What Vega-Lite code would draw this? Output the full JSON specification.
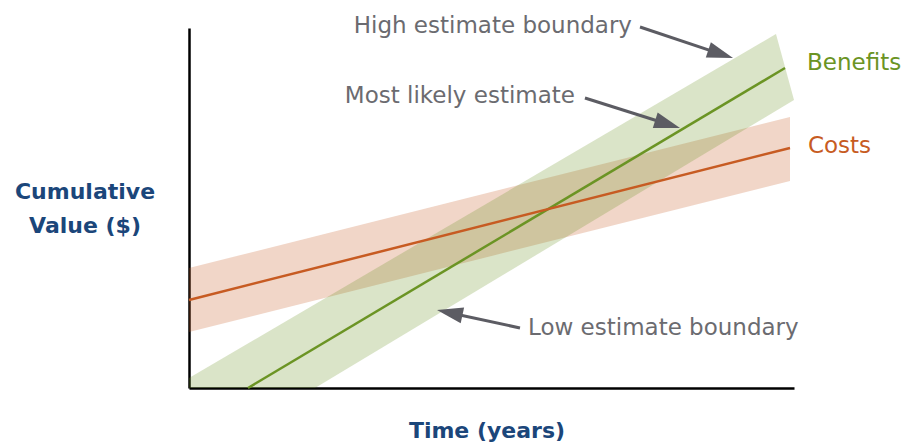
{
  "$schema": "https://vega.github.io/schema/vega-lite/v6.json",
  "width": 605,
  "height": 360,
  "autosize": {"type": "none"},
  "padding": {"left": 189, "top": 28, "right": 110, "bottom": 58},
  "background": "white",
  "config": {"view": {"stroke": null}},
  "datasets": {
    "bands": [
      {"series": "Costs", "i": 1, "x": 0, "y": 15.56},
      {"series": "Costs", "i": 2, "x": 0, "y": 33.33},
      {"series": "Costs", "i": 3, "x": 9.934, "y": 75.28},
      {"series": "Costs", "i": 4, "x": 9.934, "y": 57.5},
      {"series": "Benefits", "i": 1, "x": 0, "y": 0},
      {"series": "Benefits", "i": 2, "x": 0, "y": 2.78},
      {"series": "Benefits", "i": 3, "x": 9.702, "y": 98.33},
      {"series": "Benefits", "i": 4, "x": 10, "y": 80},
      {"series": "Benefits", "i": 5, "x": 2.083, "y": 0}
    ],
    "lines": [
      {"series": "Benefits", "x": 0.975, "y": 0},
      {"series": "Benefits", "x": 9.851, "y": 88.89},
      {"series": "Costs", "x": 0, "y": 24.44},
      {"series": "Costs", "x": 9.934, "y": 66.67}
    ],
    "shafts": [
      {"arrow": "high", "x": 7.455, "y": 100.28, "x2": 8.757, "y2": 92.97},
      {"arrow": "likely", "x": 6.545, "y": 80.56, "x2": 7.879, "y2": 73.47},
      {"arrow": "low", "x": 5.471, "y": 16.67, "x2": 4.342, "y2": 20.78}
    ],
    "heads": [
      {"arrow": "high", "x": 8.992, "y": 91.67},
      {"arrow": "likely", "x": 8.116, "y": 72.22},
      {"arrow": "low", "x": 4.099, "y": 21.67}
    ],
    "notes": [
      {"text": "High estimate boundary", "side": "right", "x": 7.322, "y": 98.61},
      {"text": "Most likely estimate", "side": "right", "x": 6.38, "y": 79.17},
      {"text": "Low estimate boundary", "side": "left", "x": 5.603, "y": 14.72}
    ],
    "serieslabels": [
      {"series": "Benefits", "x": 10.215, "y": 88.33},
      {"series": "Costs", "x": 10.231, "y": 65.28}
    ]
  },
  "encoding": {
    "x": {
      "field": "x", "type": "quantitative",
      "scale": {"domain": [0, 10], "nice": false, "zero": false},
      "axis": {
        "title": "Time (years)", "ticks": false, "labels": false, "grid": false,
        "domainColor": "#000000", "domainWidth": 2.5,
        "titleFont": "DejaVu Sans", "titleFontSize": 22, "titleFontWeight": "bold", "titleColor": "#1b467a",
        "titleAngle": 0, "titleAlign": "center", "titleBaseline": "alphabetic",
        "titleX": 297.5, "titleY": 49
      }
    },
    "y": {
      "field": "y", "type": "quantitative",
      "scale": {"domain": [0, 100], "nice": false, "zero": false},
      "axis": {
        "title": ["Cumulative", "Value ($)"], "ticks": false, "labels": false, "grid": false,
        "domainColor": "#000000", "domainWidth": 2.5,
        "titleFont": "DejaVu Sans", "titleFontSize": 22, "titleFontWeight": "bold", "titleColor": "#1b467a",
        "titleAngle": 0, "titleAlign": "center", "titleBaseline": "alphabetic",
        "titleLineHeight": 34, "titleX": -104.5, "titleY": 170
      }
    }
  },
  "layer": [
    {
      "data": {"name": "bands"},
      "transform": [{"filter": "datum.series === 'Costs'"}],
      "mark": {"type": "line", "filled": true, "fillOpacity": 0.25, "strokeWidth": 0},
      "encoding": {
        "order": {"field": "i", "type": "quantitative"},
        "color": {"field": "series", "type": "nominal", "scale": {"domain": ["Benefits", "Costs"], "range": ["#6b9424", "#c75b22"]}, "legend": null}
      }
    },
    {
      "data": {"name": "bands"},
      "transform": [{"filter": "datum.series === 'Benefits'"}],
      "mark": {"type": "line", "filled": true, "fillOpacity": 0.25, "strokeWidth": 0},
      "encoding": {
        "order": {"field": "i", "type": "quantitative"},
        "color": {"field": "series", "type": "nominal", "legend": null}
      }
    },
    {
      "data": {"name": "lines"},
      "mark": {"type": "line", "strokeWidth": 2.5},
      "encoding": {
        "color": {"field": "series", "type": "nominal", "legend": null}
      }
    },
    {
      "data": {"name": "shafts"},
      "mark": {"type": "rule", "color": "#5c5c63", "strokeWidth": 3},
      "encoding": {
        "x2": {"field": "x2"},
        "y2": {"field": "y2"}
      }
    },
    {
      "data": {"name": "heads"},
      "transform": [{"filter": "datum.arrow === 'high'"}],
      "mark": {"type": "point", "shape": "M0,0L-2,-0.62L-2,0.62Z", "size": 676, "filled": true, "opacity": 1, "color": "#5c5c63", "angle": 18.4}
    },
    {
      "data": {"name": "heads"},
      "transform": [{"filter": "datum.arrow === 'likely'"}],
      "mark": {"type": "point", "shape": "M0,0L-2,-0.62L-2,0.62Z", "size": 676, "filled": true, "opacity": 1, "color": "#5c5c63", "angle": 17.5}
    },
    {
      "data": {"name": "heads"},
      "transform": [{"filter": "datum.arrow === 'low'"}],
      "mark": {"type": "point", "shape": "M0,0L-2,-0.62L-2,0.62Z", "size": 676, "filled": true, "opacity": 1, "color": "#5c5c63", "angle": 192.2}
    },
    {
      "data": {"name": "notes"},
      "transform": [{"filter": "datum.side === 'right'"}],
      "mark": {"type": "text", "align": "right", "baseline": "alphabetic", "font": "DejaVu Sans", "fontSize": 23, "color": "#6b6b70"},
      "encoding": {"text": {"field": "text"}}
    },
    {
      "data": {"name": "notes"},
      "transform": [{"filter": "datum.side === 'left'"}],
      "mark": {"type": "text", "align": "left", "baseline": "alphabetic", "font": "DejaVu Sans", "fontSize": 23, "color": "#6b6b70"},
      "encoding": {"text": {"field": "text"}}
    },
    {
      "data": {"name": "serieslabels"},
      "mark": {"type": "text", "align": "left", "baseline": "alphabetic", "font": "DejaVu Sans", "fontSize": 23},
      "encoding": {
        "text": {"field": "series"},
        "color": {"field": "series", "type": "nominal", "legend": null}
      }
    }
  ]
}
